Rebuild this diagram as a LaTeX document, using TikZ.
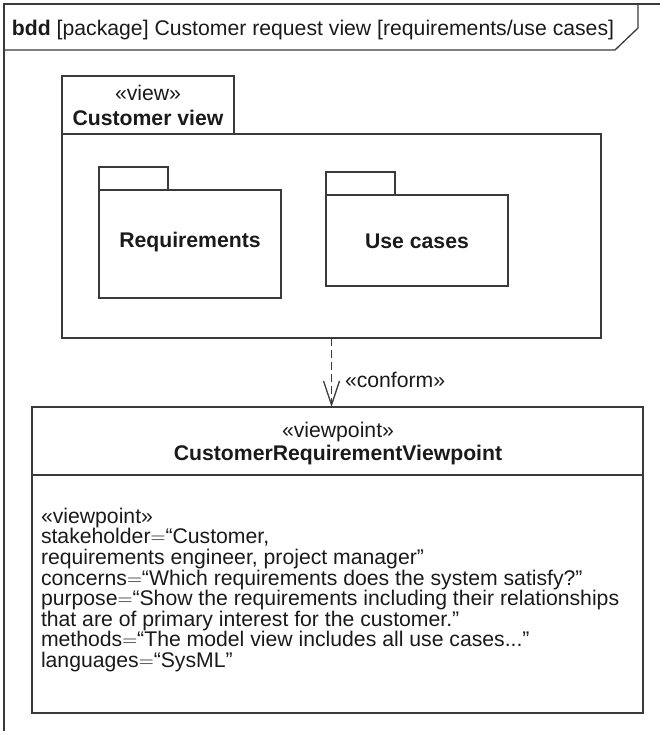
\documentclass[tikz,border=0pt]{standalone}
\usepackage{fontspec}
\setmainfont{Liberation Sans}
\usetikzlibrary{arrows.meta}
\definecolor{ln}{HTML}{3a3a3a}
\definecolor{tx}{HTML}{1a1a1a}
\newcommand{\eqs}{$=$}
\begin{document}
\begin{tikzpicture}[x=1pt,y=-1pt,
  line width=1.3pt,
  every node/.style={text=tx, font=\fontsize{21.2}{21.2}\selectfont},
  box/.style={draw=ln, anchor=north west, inner sep=0pt, outer sep=0pt},
  lbl/.style={inner sep=0pt, outer sep=0pt},
  dep/.style={draw=ln, dash pattern=on 8pt off 4pt, -{Straight Barb[length=24pt,width=16pt]}}
  ]
\useasboundingbox (0,0) rectangle (660,731);
% frame
\draw[ln] (4,731) -- (4,4) -- (660,4);
\draw[ln] (4,50) -- (615,50) -- (638,28) -- (638,4);
\node[lbl, anchor=base west] (title) at (12,35) {\textbf{bdd} [package] Customer request view [requirements/use cases]};
% Customer view package
\node[box, minimum width=172pt, minimum height=58pt] (cvtab) at (62,76) {};
\node[lbl, anchor=base] (cvst) at (148,100) {«view»};
\node[lbl, anchor=base] (cvname) at (148,125) {\textbf{Customer view}};
\node[box, minimum width=539pt, minimum height=204pt] (cv) at (62,134) {};
% Requirements package
\node[box, minimum width=69pt, minimum height=23pt] (reqtab) at (99,167) {};
\node[box, minimum width=182pt, minimum height=108pt] (req) at (99,190) {};
\node[lbl, anchor=base] (reqname) at (req.center |- 0,247) {\textbf{Requirements}};
% Use cases package
\node[box, minimum width=69pt, minimum height=23pt] (uctab) at (326,172) {};
\node[box, minimum width=182pt, minimum height=91pt] (uc) at (326,195) {};
\node[lbl, anchor=base] (ucname) at (uc.center |- 0,248) {\textbf{Use cases}};
% Viewpoint block
\node[box, minimum width=611pt, minimum height=306pt] (vp) at (32,407) {};
\draw[ln] (vp.west |- 0,475) coordinate (sepL) -- (vp.east |- 0,475) coordinate (sepR);
\node[lbl, anchor=base] (vpst) at (338,437) {«viewpoint»};
\node[lbl, anchor=base] (vpname) at (338,460) {\textbf{CustomerRequirementViewpoint}};
\node[lbl, anchor=north west, align=left, font=\fontsize{21.2}{20.6}\selectfont] (vpbody) at (41,508)
{«viewpoint»\\
stakeholder\eqs“Customer,\\
requirements engineer, project manager”\\
concerns\eqs“Which requirements does the system satisfy?”\\
purpose\eqs“Show the requirements including their relationships\\
that are of primary interest for the customer.”\\
methods\eqs“The model view includes all use cases...”\\
languages\eqs“SysML”};
% conform dependency
\draw[dep] (cv.south) -- (cv.south |- vp.north);
\node[lbl, anchor=west] (conf) at (345,380) {«conform»};
\end{tikzpicture}
\end{document}
